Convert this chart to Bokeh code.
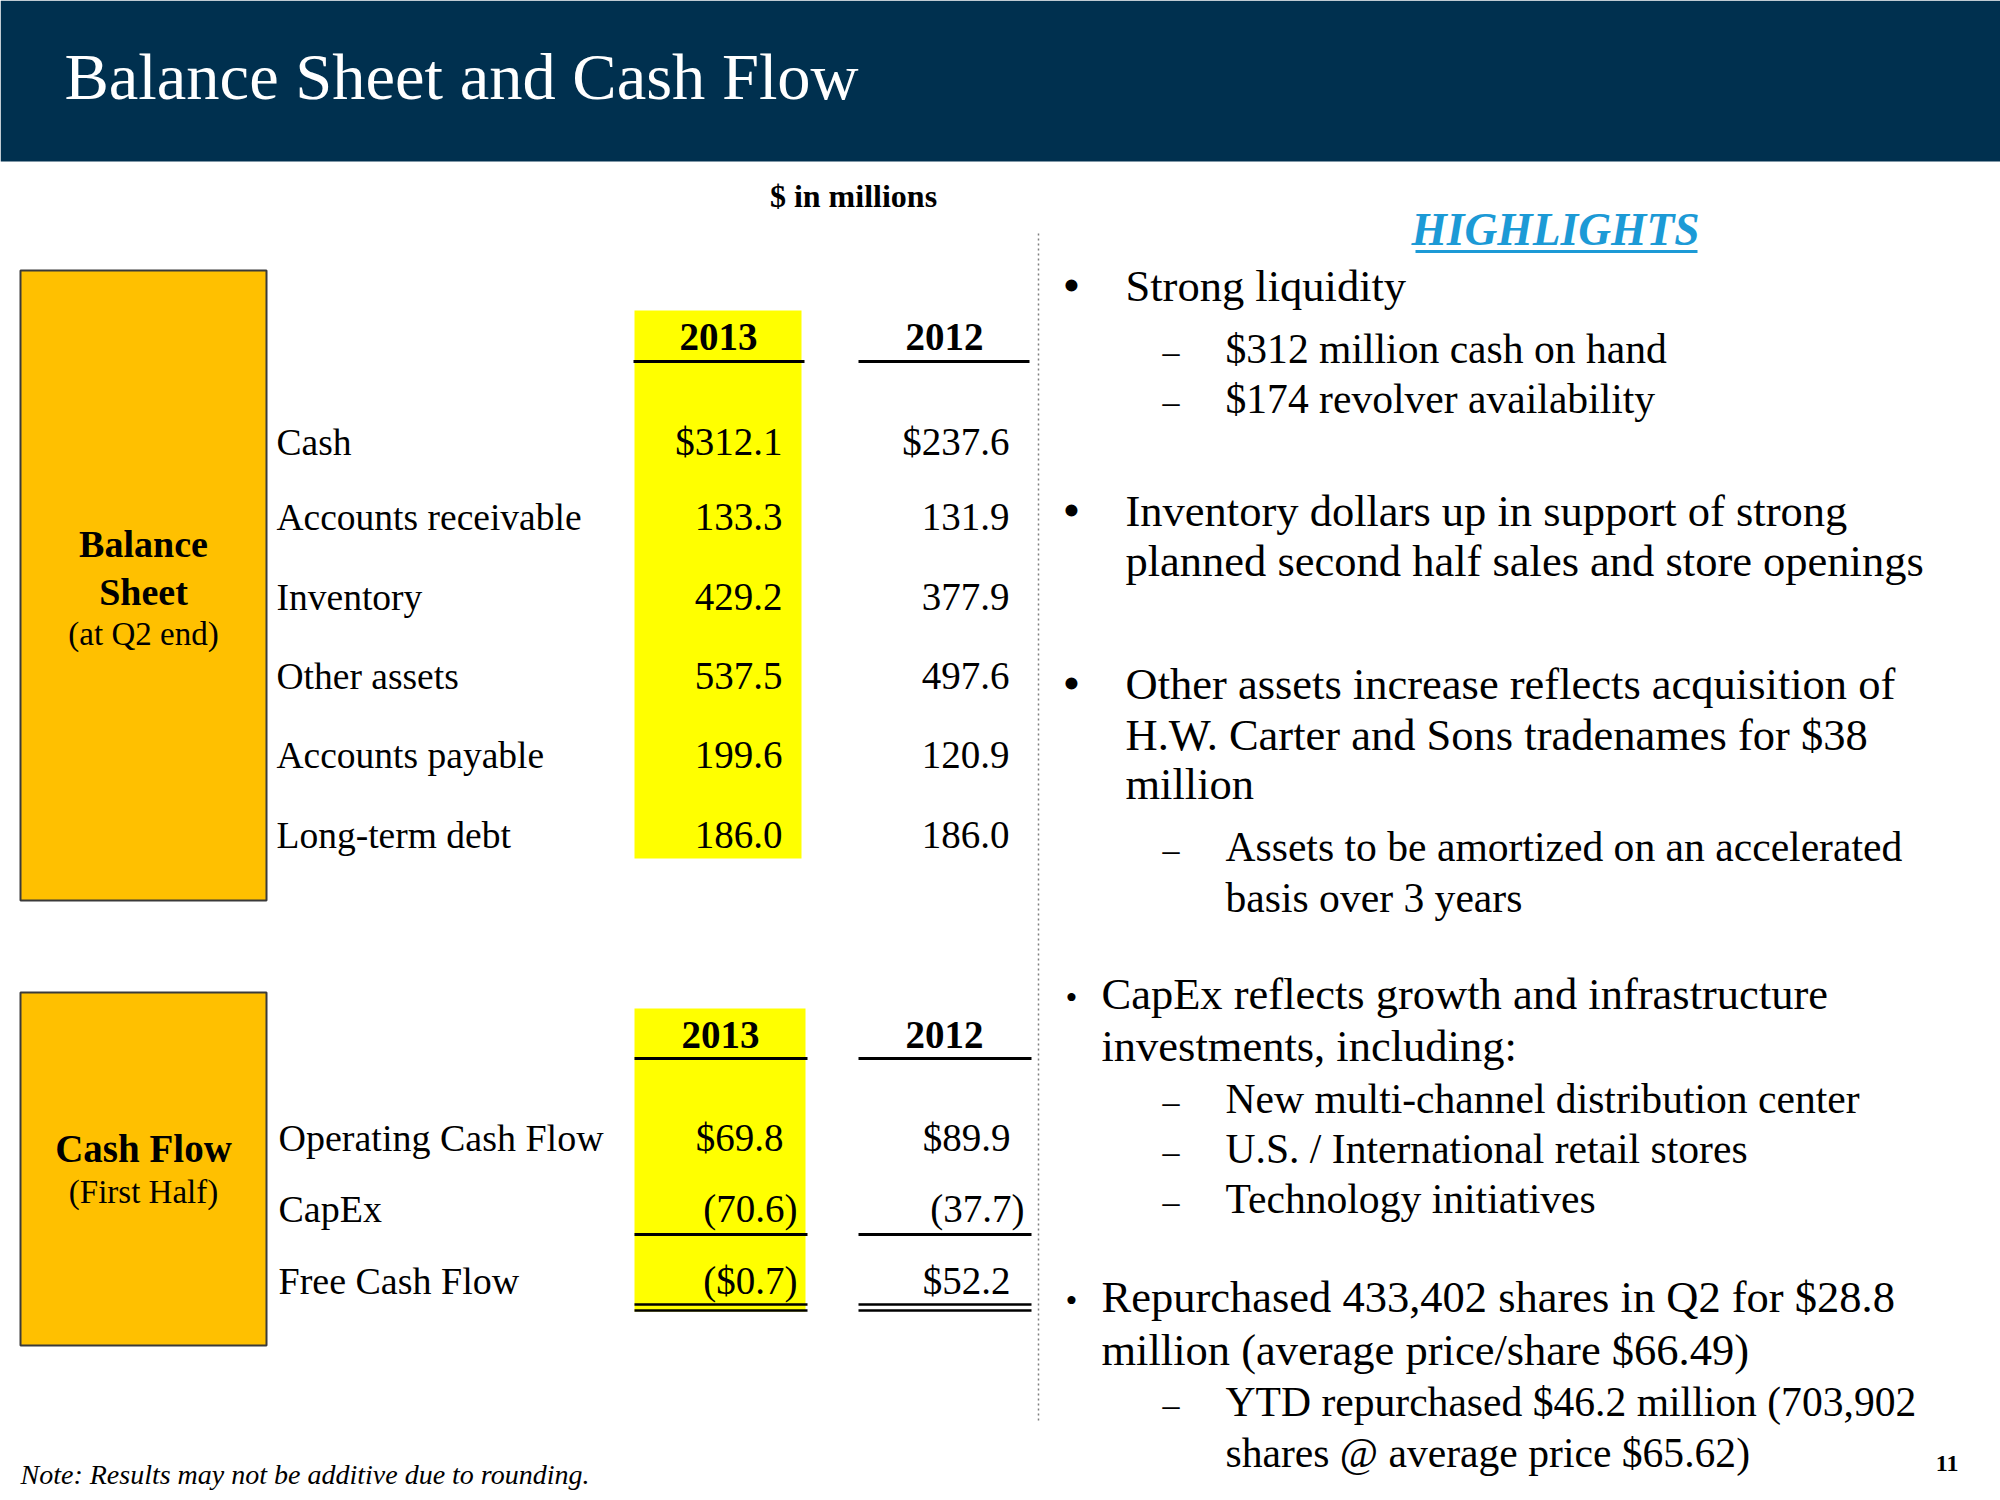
from bokeh.plotting import figure
from bokeh.models import Range1d, ColumnDataSource
from bokeh.core.properties import value
from bokeh.embed import file_html
from bokeh.resources import INLINE

# ---------------- data ----------------
title = "Balance Sheet and Cash Flow"
units = "$ in millions"
years = ["2013", "2012"]

bs_labels = ["Cash", "Accounts receivable", "Inventory", "Other assets",
             "Accounts payable", "Long-term debt"]
bs_2013 = [312.1, 133.3, 429.2, 537.5, 199.6, 186.0]
bs_2012 = [237.6, 131.9, 377.9, 497.6, 120.9, 186.0]

cf_labels = ["Operating Cash Flow", "CapEx", "Free Cash Flow"]
cf_2013 = [69.8, -70.6, -0.7]
cf_2012 = [89.9, -37.7, 52.2]

bs_box = ["Balance", "Sheet", "(at Q2 end)"]
cf_box = ["Cash Flow", "(First Half)"]

highlights_title = "HIGHLIGHTS"
# (kind, text) kind: B = big bullet, b = small bullet, c/c2 = continuation, s = sub bullet, sc = sub continuation
highlights = [
    ("B", "Strong liquidity"),
    ("s", "$312 million cash on hand"),
    ("s", "$174 revolver availability"),
    ("B", "Inventory dollars up in support of strong"),
    ("c", "planned second half sales and store openings"),
    ("B", "Other assets increase reflects acquisition of"),
    ("c", "H.W. Carter and Sons tradenames for $38"),
    ("c", "million"),
    ("s", "Assets to be amortized on an accelerated"),
    ("sc", "basis over 3 years"),
    ("b", "CapEx reflects growth and infrastructure"),
    ("c2", "investments, including:"),
    ("s", "New multi-channel distribution center"),
    ("s", "U.S. / International retail stores"),
    ("s", "Technology initiatives"),
    ("b", "Repurchased 433,402 shares in Q2 for $28.8"),
    ("c2", "million (average price/share $66.49)"),
    ("s", "YTD repurchased $46.2 million (703,902"),
    ("sc", "shares @ average price $65.62)"),
]
note = "Note: Results may not be additive due to rounding."
page_no = "11"

# ---------------- layout ----------------
W, H = 2000, 1500
FONT = "Liberation Serif"
NAVY = "#00304F"
ORANGE = "#FFC000"
YELLOW = "#FFFF00"
BLUE = "#1C9AD6"
BL = 0.33  # baseline correction (fraction of font size)

p = figure(width=W, height=H, x_range=Range1d(0, W), y_range=Range1d(H, 0),
           output_backend="svg", toolbar_location=None,
           x_axis_location=None, y_axis_location=None, min_border=0)
p.outline_line_color = None
p.grid.visible = False
p.background_fill_color = "white"


def txt(xs, ys, texts, size, align="left", style="normal", color="black"):
    src = ColumnDataSource(dict(x=list(xs), y=[y - BL * size for y in ys], t=list(texts)))
    p.text(x="x", y="y", text="t", source=src, text_align=align, text_baseline="alphabetic",
           text_font=value(FONT), text_font_size=value(f"{size}px"),
           text_font_style=style, text_color=color)


def fmt(v, dollar):
    s = f"{abs(v):.1f}"
    if dollar:
        s = "$" + s
    return f"({s})" if v < 0 else s


# header band
p.quad(left=[0], right=[W], top=[0], bottom=[161], fill_color=NAVY, line_color=None)
txt([64], [98], [title], 66.5, color="white")
txt([853], [206], [units], 32, align="center", style="bold")

# dotted separator
p.segment(x0=[1038], y0=[233], x1=[1038], y1=[1422], line_color="#7f7f7f",
          line_width=1.5, line_dash="2 3")

# ---- balance sheet block ----
p.quad(left=[20], right=[266], top=[270], bottom=[900], fill_color=ORANGE,
       line_color="#3a3a3a", line_width=2)
txt([143, 143], [556, 604], bs_box[:2], 38, align="center", style="bold")
txt([143], [644], bs_box[2:], 33, align="center")

p.quad(left=[634], right=[801], top=[310], bottom=[858], fill_color=YELLOW, line_color=None)
txt([718, 944], [349, 349], years, 39, align="center", style="bold")
p.segment(x0=[633, 858], y0=[361, 361], x1=[804, 1029], y1=[361, 361], line_color="black", line_width=3)

bs_y = [454, 529, 609, 688, 767, 847]
txt([276] * len(bs_labels), bs_y, bs_labels, 37.5)
COL13, COL12, PAREN = 782, 1009, 14
txt([COL13 + (PAREN if v < 0 else 0) for v in bs_2013], bs_y,
    [fmt(v, i == 0) for i, v in enumerate(bs_2013)], 39, align="right")
txt([COL12 + (PAREN if v < 0 else 0) for v in bs_2012], bs_y,
    [fmt(v, i == 0) for i, v in enumerate(bs_2012)], 39, align="right")

# ---- cash flow block ----
p.quad(left=[20], right=[266], top=[992], bottom=[1345], fill_color=ORANGE,
       line_color="#3a3a3a", line_width=2)
txt([143], [1161], cf_box[:1], 39, align="center", style="bold")
txt([143], [1202], cf_box[1:], 33, align="center")

p.quad(left=[634], right=[805], top=[1008], bottom=[1311], fill_color=YELLOW, line_color=None)
txt([720, 944], [1047, 1047], years, 39, align="center", style="bold")
p.segment(x0=[634, 858], y0=[1058, 1058], x1=[807, 1031], y1=[1058, 1058], line_color="black", line_width=3)
p.segment(x0=[634, 858], y0=[1234, 1234], x1=[807, 1031], y1=[1234, 1234], line_color="black", line_width=3)
p.segment(x0=[634, 858, 634, 858], y0=[1304, 1304, 1310, 1310],
          x1=[807, 1031, 807, 1031], y1=[1304, 1304, 1310, 1310], line_color="black", line_width=2.5)

cf_y = [1150, 1221, 1293]
txt([278] * len(cf_labels), cf_y, cf_labels, 38)
txt([COL13 + 1 + (PAREN if v < 0 else 0) for v in cf_2013], cf_y,
    [fmt(v, i != 1) for i, v in enumerate(cf_2013)], 39, align="right")
txt([COL12 + 1 + (PAREN if v < 0 else 0) for v in cf_2012], cf_y,
    [fmt(v, i != 1) for i, v in enumerate(cf_2012)], 39, align="right")

# ---- highlights ----
txt([1555], [244], [highlights_title], 45.5, align="center", style="bold italic", color=BLUE)
p.segment(x0=[1415], y0=[251], x1=[1697], y1=[251], line_color=BLUE, line_width=3)

hl_y = [300, 362, 412, 525, 575, 698, 749, 798, 860, 911,
        1008, 1060, 1112, 1162, 1212, 1311, 1364, 1415, 1466]
main_x, main_x2, sub_x = 1125, 1101, 1225
bx, by, bt = [], [], []
sbx, sby, sbt = [], [], []
dx, dy = [], []
mx, my, mt = [], [], []
sx, sy, st = [], [], []
for (kind, t), y in zip(highlights, hl_y):
    if kind == "B":
        bx.append(1071); by.append(y); bt.append("\u2022")
        mx.append(main_x); my.append(y); mt.append(t)
    elif kind == "b":
        sbx.append(1071); sby.append(y); sbt.append("\u2022")
        mx.append(main_x2); my.append(y); mt.append(t)
    elif kind == "c":
        mx.append(main_x); my.append(y); mt.append(t)
    elif kind == "c2":
        mx.append(main_x2); my.append(y); mt.append(t)
    elif kind == "s":
        dx.append(1162); dy.append(y)
        sx.append(sub_x); sy.append(y); st.append(t)
    else:
        sx.append(sub_x); sy.append(y); st.append(t)

txt(bx, by, bt, 44, align="center", style="bold")
txt(sbx, sby, sbt, 34, align="center")
txt(dx, dy, ["\u2013"] * len(dx), 34)
txt(mx, my, mt, 44.5)
txt(sx, sy, st, 41.6)

# ---- footer ----
txt([20], [1483], [note], 28, style="italic")
txt([1958], [1471], [page_no], 24, align="right", style="bold")

open("out.html", "w").write(file_html(p, INLINE))
